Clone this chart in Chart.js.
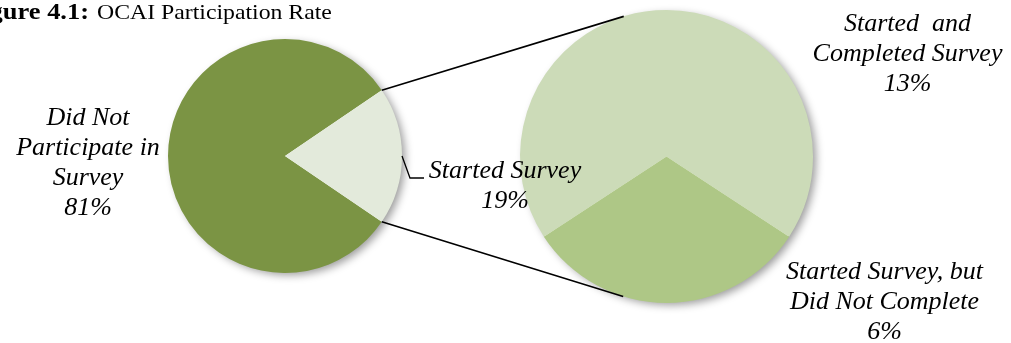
<!DOCTYPE html>
<html>
<head>
<meta charset="utf-8">
<script src="https://cdn.jsdelivr.net/npm/chart.js@4.4.1/dist/chart.umd.min.js"></script>
<style>
  html, body { margin: 0; padding: 0; background: #fff; }
  #wrap { position: relative; width: 1011px; height: 343px; overflow: hidden; }
  #wrap canvas { position: absolute; left: 0; top: 0; }
</style>
</head>
<body>
<div id="wrap">
  <canvas id="mainPie" width="1011" height="343"></canvas>
  <canvas id="subPie" width="1011" height="343"></canvas>
</div>
<script>
// participation split (main pie) and breakdown of those who started (sub pie)
var mainCategories = [['Did Not', 'Participate in', 'Survey'], ['Started Survey']];
var mainValues = [81, 19];
var subCategories = [['Started  and', 'Completed Survey'], ['Started Survey, but', 'Did Not Complete']];
var subValues = [13, 6];

var mainColors = ['#7b9444', '#e3eadb'];
var subColors = ['#ccdbb8', '#aec786'];

var titleBold = 'Figure 4.1:';
var titleText = 'OCAI Participation Rate';

var labelFont = 'italic 26px "Liberation Serif", "Times New Roman", serif';
var lineHeight = 30;

function sum(arr) {
    return arr.reduce(function(a, b) { return a + b; }, 0);
}

// rotate so the given slice is centred on the given clock angle (degrees, 0 = top)
function rotationFor(values, index, centreDeg) {
    var total = sum(values);
    var before = sum(values.slice(0, index)) / total * 360;
    var half = values[index] / total * 180;
    return centreDeg - before - half;
}

// soft drop shadow under the whole pie
var pieShadow = {
    id: 'pieShadow',
    beforeDatasetsDraw: function(chart) {
        var arc = chart.getDatasetMeta(0).data[0];
        var ctx = chart.ctx;
        ctx.save();
        ctx.shadowColor = 'rgba(0,0,0,0.4)';
        ctx.shadowBlur = 8;
        ctx.shadowOffsetX = 4;
        ctx.shadowOffsetY = 3;
        ctx.fillStyle = '#fff';
        ctx.beginPath();
        ctx.arc(arc.x, arc.y, arc.outerRadius - 1, 0, Math.PI * 2);
        ctx.fill();
        ctx.restore();
    }
};

function baseOptions(rotation, padding) {
    return {
        responsive: false,
        animation: false,
        events: [],
        rotation: rotation,
        layout: { padding: padding },
        plugins: {
            legend: { display: false },
            tooltip: { enabled: false }
        }
    };
}

var mainChart = new Chart(document.getElementById('mainPie').getContext('2d'), {
    type: 'pie',
    data: {
        labels: mainCategories.map(function(l) { return l.join(' '); }),
        datasets: [{
            data: mainValues,
            backgroundColor: mainColors,
            borderWidth: 0,
            hoverOffset: 0
        }]
    },
    options: baseOptions(rotationFor(mainValues, 1, 90), { left: 168, right: 609, top: 39, bottom: 70 }),
    plugins: [pieShadow]
});

function drawLines(ctx, lines, x, y) {
    lines.forEach(function(t, i) {
        ctx.fillText(t, x, y + i * lineHeight);
    });
}

// stretched text for the wide title face
function wideText(ctx, text, x, y, sx) {
    ctx.save();
    ctx.translate(x, y);
    ctx.scale(sx, 1);
    ctx.fillText(text, 0, 0);
    ctx.restore();
}

function tangentPoint(px, py, cx, cy, r, upper) {
    var dx = px - cx, dy = py - cy;
    var d = Math.sqrt(dx * dx + dy * dy);
    var base = Math.atan2(dy, dx);
    var alpha = Math.acos(r / d);
    var a = upper ? base + alpha : base - alpha;
    return { x: cx + r * Math.cos(a), y: cy + r * Math.sin(a) };
}

// title, connectors and slice labels, drawn on top of both pies
var overlay = {
    id: 'overlay',
    afterDraw: function(chart) {
        var ctx = chart.ctx;
        var m = mainChart.getDatasetMeta(0).data;
        var s = chart.getDatasetMeta(0).data;
        var mc = m[0], sc = s[0];

        ctx.save();

        // title, clipped at the left edge
        ctx.fillStyle = '#000';
        ctx.textBaseline = 'alphabetic';
        var titleX = 97;
        ctx.font = '22px "Liberation Serif", "Times New Roman", serif';
        ctx.textAlign = 'left';
        wideText(ctx, titleText, titleX, 19, 1.08);
        ctx.font = 'bold 23px "Liberation Serif", "Times New Roman", serif';
        ctx.textAlign = 'right';
        wideText(ctx, titleBold, titleX - 8, 19, 1.15);

        // connectors from the exploded slice to the sub pie
        var slice = m[1];
        var r = slice.outerRadius;
        var p1 = { x: slice.x + r * Math.cos(slice.startAngle), y: slice.y + r * Math.sin(slice.startAngle) };
        var p2 = { x: slice.x + r * Math.cos(slice.endAngle), y: slice.y + r * Math.sin(slice.endAngle) };
        var t1 = tangentPoint(p1.x, p1.y, sc.x, sc.y, sc.outerRadius, true);
        var t2 = tangentPoint(p2.x, p2.y, sc.x, sc.y, sc.outerRadius, false);
        ctx.strokeStyle = '#000';
        ctx.lineWidth = 1.6;
        ctx.beginPath();
        ctx.moveTo(p1.x, p1.y);
        ctx.lineTo(t1.x, t1.y);
        ctx.moveTo(p2.x, p2.y);
        ctx.lineTo(t2.x, t2.y);
        ctx.stroke();

        // leader line for the "Started Survey" label
        var mid = (slice.startAngle + slice.endAngle) / 2;
        var ex = slice.x + r * Math.cos(mid), ey = slice.y + r * Math.sin(mid);
        ctx.lineWidth = 1.3;
        ctx.beginPath();
        ctx.moveTo(ex, ey);
        ctx.lineTo(ex + 8, ey + 22);
        ctx.lineTo(ex + 22, ey + 22);
        ctx.stroke();

        // slice labels
        ctx.font = labelFont;
        ctx.textAlign = 'center';
        ctx.textBaseline = 'middle';
        drawLines(ctx, mainCategories[0].concat([mainValues[0] + '%']), mc.x - 197, mc.y - 38);
        drawLines(ctx, mainCategories[1].concat([mainValues[1] + '%']), mc.x + 220, mc.y + 15);
        drawLines(ctx, subCategories[0].concat([subValues[0] + '%']), sc.x + 241, sc.y - 132);
        drawLines(ctx, subCategories[1].concat([subValues[1] + '%']), sc.x + 218, sc.y + 116);

        ctx.restore();
    }
};

var subChart = new Chart(document.getElementById('subPie').getContext('2d'), {
    type: 'pie',
    data: {
        labels: subCategories.map(function(l) { return l.join(' '); }),
        datasets: [{
            data: subValues,
            backgroundColor: subColors,
            borderWidth: 0,
            hoverOffset: 0
        }]
    },
    options: baseOptions(rotationFor(subValues, 1, 180), { left: 520, right: 198, top: 10, bottom: 40 }),
    plugins: [pieShadow, overlay]
});
</script>
</body>
</html>
